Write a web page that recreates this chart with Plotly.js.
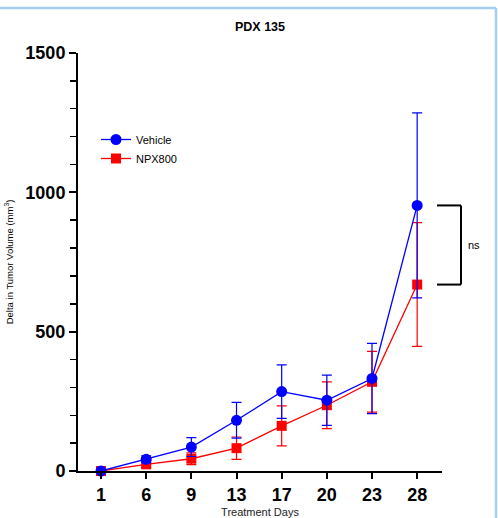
<!DOCTYPE html>
<html>
<head>
<meta charset="utf-8">
<script src="https://cdn.plot.ly/plotly-3.0.1.min.js"></script>
<style>html,body{margin:0;padding:0;background:#fff;}#chart{width:498px;height:518px;}</style>
</head>
<body>
<div id="chart"></div>
<script>
const days = ['1', '6', '9', '13', '17', '20', '23', '28'];
const vehicleMean = [0, 42, 86, 182, 285, 254, 332, 953];
const vehicleErr = [0, 12, 34, 64, 96, 90, 126, 332];
const npxMean = [0, 24, 44, 82, 162, 236, 320, 669];
const npxErr = [0, 12, 21, 40, 72, 84, 109, 222];
const seriesNames = ['Vehicle', 'NPX800'];
const chartTitle = 'PDX 135';
const xTitle = 'Treatment Days';
const yTitle = 'Delta in Tumor Volume (mm<sup>3</sup>)';
const yTickVals = [0, 500, 1000, 1500];
const sigLabel = 'ns';

const BLUE = '#0000ff', RED = '#ff0000';
const FONT = 'Liberation Sans, Arial, sans-serif';

const traces = [
  {
    x: days, y: npxMean, name: seriesNames[1], type: 'scatter', mode: 'lines+markers',
    line: {color: RED, width: 1.3},
    marker: {symbol: 'square', size: 10, color: RED},
    error_y: {type: 'data', array: npxErr, visible: true, color: RED, thickness: 1.2, width: 5},
    cliponaxis: false
  },
  {
    x: days, y: vehicleMean, name: seriesNames[0], type: 'scatter', mode: 'lines+markers',
    line: {color: BLUE, width: 1.3},
    marker: {symbol: 'circle', size: 11, color: BLUE},
    error_y: {type: 'data', array: vehicleErr, visible: true, color: BLUE, thickness: 1.2, width: 5},
    cliponaxis: false
  }
];

const L = 78, T = 53, B = 47, R = 56;
const W = 498 - L - R, H = 518 - T - B;
const px2x = p => (p - L) / W;
const px2y = p => (518 - B - p) / H;
const yMax = 1500;
const vTop = vehicleMean[7] / yMax, vBot = npxMean[7] / yMax;

const layout = {
  width: 498, height: 518,
  margin: {l: L, r: R, t: T, b: B, pad: 0},
  paper_bgcolor: '#ffffff', plot_bgcolor: '#ffffff',
  font: {family: FONT, color: '#000'},
  title: {text: '<b>' + chartTitle + '</b>', font: {size: 12.5, family: FONT, color: '#000'},
          x: 0.5, xref: 'paper', xanchor: 'center', y: 1 - 27 / 518, yanchor: 'middle'},
  showlegend: true,
  legend: {x: px2x(96), y: px2y(125), xanchor: 'left', yanchor: 'top',
           font: {size: 11, family: FONT, color: '#000'}, traceorder: 'reversed',
           bgcolor: 'rgba(0,0,0,0)', itemwidth: 30, tracegroupgap: 0},
  xaxis: {
    type: 'category', range: [-0.51, 7.55], showgrid: false, zeroline: false,
    showline: true, linecolor: '#000', linewidth: 2,
    ticks: 'outside', ticklen: 6, tickwidth: 2, tickcolor: '#000',
    tickfont: {size: 18, family: FONT, color: '#000', weight: 'bold'},
    title: {text: xTitle, font: {size: 11, family: FONT, color: '#222'}, standoff: 8}
  },
  yaxis: {
    range: [0, yMax], showgrid: false, zeroline: false,
    showline: true, linecolor: '#000', linewidth: 2,
    tickvals: yTickVals, ticks: 'outside', ticklen: 7, tickwidth: 2, tickcolor: '#000',
    tickfont: {size: 18, family: FONT, color: '#000', weight: 'bold'},
    minor: {dtick: 100, ticks: 'outside', ticklen: 6, tickwidth: 1.5, tickcolor: '#000', showgrid: false},
    title: {text: yTitle, font: {size: 9.5, family: FONT, color: '#000'}, standoff: 10}
  },
  shapes: [
    {type: 'line', xref: 'paper', yref: 'paper', x0: px2x(437), x1: px2x(461), y0: vTop, y1: vTop, line: {color: '#000', width: 2}},
    {type: 'line', xref: 'paper', yref: 'paper', x0: px2x(461), x1: px2x(461), y0: vTop, y1: vBot, line: {color: '#000', width: 2}},
    {type: 'line', xref: 'paper', yref: 'paper', x0: px2x(437), x1: px2x(461), y0: vBot, y1: vBot, line: {color: '#000', width: 2}},
    {type: 'line', xref: 'paper', yref: 'paper', x0: px2x(-2), x1: px2x(496), y0: px2y(8), y1: px2y(8), line: {color: '#a5cdf6', width: 2.5}},
    {type: 'line', xref: 'paper', yref: 'paper', x0: px2x(496), x1: px2x(496), y0: px2y(8), y1: px2y(520), line: {color: '#a5cdf6', width: 2.5}}
  ],
  annotations: [
    {xref: 'paper', yref: 'paper', x: px2x(466), y: (vTop + vBot) / 2, text: sigLabel, showarrow: false,
     xanchor: 'left', yanchor: 'middle', font: {size: 11, family: FONT, color: '#000'}}
  ]
};

Plotly.newPlot('chart', traces, layout, {displayModeBar: false, staticPlot: true});
</script>
</body>
</html>
